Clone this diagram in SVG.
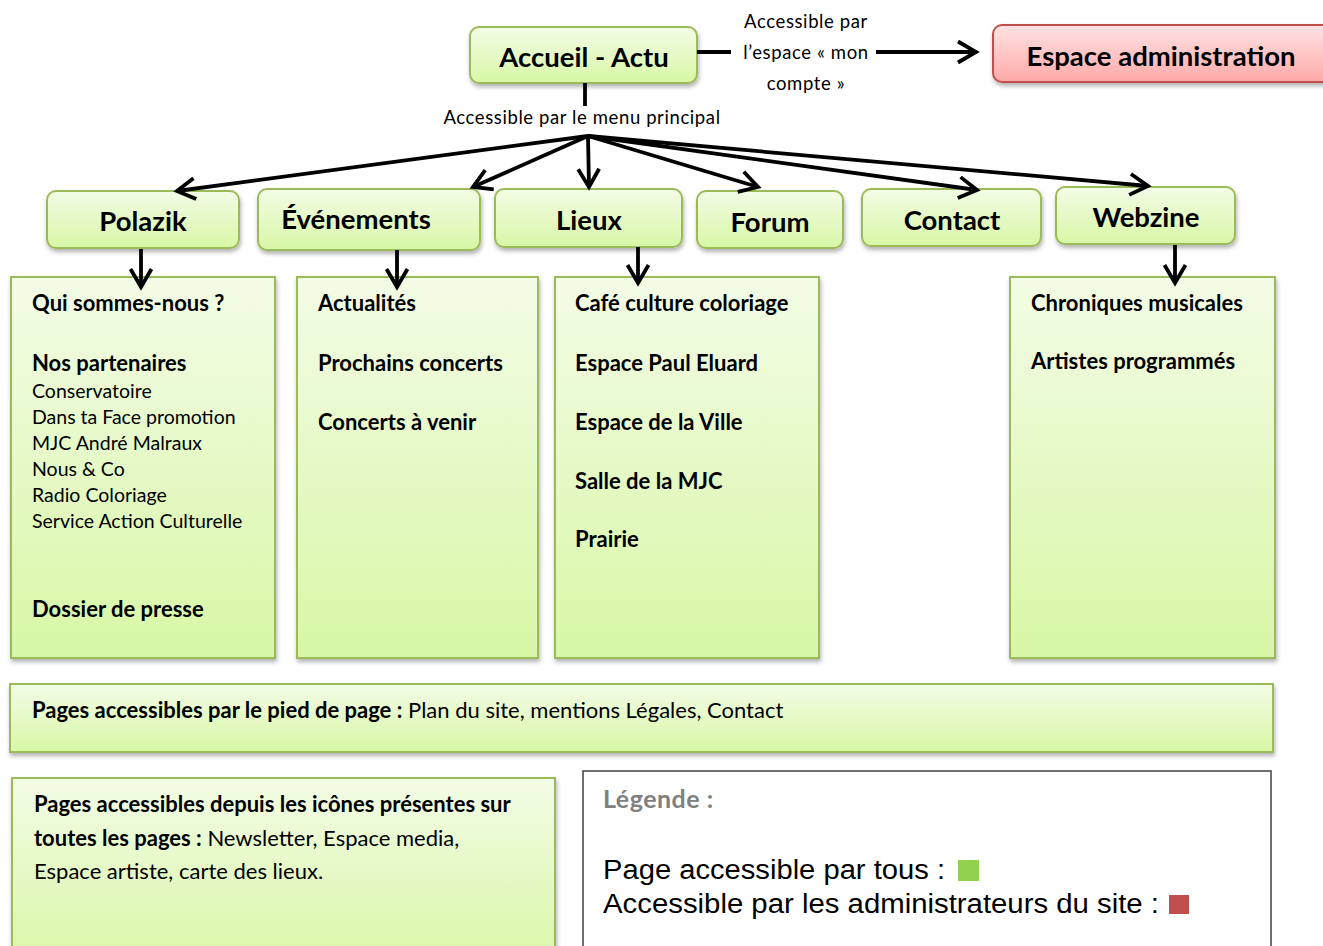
<svg xmlns="http://www.w3.org/2000/svg" width="1323" height="946" viewBox="0 0 1323 946">
<defs>
<linearGradient id="gG" x1="0" y1="0" x2="0" y2="1"><stop offset="0" stop-color="#f3fce6"/><stop offset="1" stop-color="#d8f7a6"/></linearGradient>
<linearGradient id="gR" x1="0" y1="0" x2="0" y2="1"><stop offset="0" stop-color="#ffe3e3"/><stop offset="1" stop-color="#ffa9a9"/></linearGradient>
<filter id="sh" x="-10%" y="-10%" width="120%" height="130%"><feDropShadow dx="1" dy="3" stdDeviation="2" flood-color="#000" flood-opacity="0.3"/></filter>
<marker id="ar" viewBox="-24 -24 48 48" refX="0" refY="0" markerWidth="48" markerHeight="48" markerUnits="userSpaceOnUse" orient="auto" overflow="visible"><path d="M-18,-10.5 L0,0 L-18,10.5" fill="none" stroke="#000" stroke-width="3.8" stroke-linejoin="miter"/></marker>
<style>
.g{fill:url(#gG);stroke:#9bbb59;stroke-width:2;filter:url(#sh)}
.r{fill:url(#gR);stroke:#c0504d;stroke-width:2;filter:url(#sh)}
.t{font-family:Lato,"Open Sans",sans-serif;fill:#000}
.h{font-size:27.5px;font-weight:bold;text-anchor:middle}
.b{font-size:22px;font-weight:bold}
.n{font-size:19.5px}
.f{font-size:22px}
.l{font-size:18.5px;letter-spacing:0.6px;text-anchor:middle}
.c{stroke:#000;stroke-width:3.8;fill:none}
.a{font-family:"Liberation Sans",Arial,sans-serif;font-size:27px;fill:#000}
</style>
</defs>
<g id="accueil"><rect class="g" x="470" y="27" width="227" height="56" rx="9"/><text class="t h" x="584" y="67">Accueil - Actu</text></g>
<g id="admin"><rect class="r" x="993" y="25" width="340" height="57" rx="9"/><text class="t h" x="1161" y="66">Espace administration</text></g>
<g id="polazik"><rect class="g" x="47" y="191" width="192" height="57" rx="9"/><text class="t h" x="143" y="231">Polazik</text></g>
<g id="evenements"><rect class="g" x="258" y="189" width="222" height="61" rx="9"/><text class="t h" x="356" y="229">Événements</text></g>
<g id="lieux"><rect class="g" x="495" y="189" width="187" height="58" rx="9"/><text class="t h" x="589" y="230">Lieux</text></g>
<g id="forum"><rect class="g" x="697" y="191" width="146" height="57" rx="9"/><text class="t h" x="770" y="232">Forum</text></g>
<g id="contact"><rect class="g" x="862" y="189" width="179" height="57" rx="9"/><text class="t h" x="952" y="230">Contact</text></g>
<g id="webzine"><rect class="g" x="1056" y="187" width="179" height="57" rx="9"/><text class="t h" x="1146" y="227">Webzine</text></g>
<g id="polazik-pages"><rect class="g" x="11" y="277" width="264" height="381"/>
<text class="t b" x="32" y="311">Qui sommes-nous ?</text>
<text class="t b" x="32" y="371">Nos partenaires</text>
<text class="t n" x="32" y="398">Conservatoire</text>
<text class="t n" x="32" y="424">Dans ta Face promotion</text>
<text class="t n" x="32" y="450">MJC André Malraux</text>
<text class="t n" x="32" y="476">Nous &amp; Co</text>
<text class="t n" x="32" y="502">Radio Coloriage</text>
<text class="t n" x="32" y="528">Service Action Culturelle</text>
<text class="t b" x="32" y="617">Dossier de presse</text>
</g>
<g id="evenements-pages"><rect class="g" x="297" y="277" width="241" height="381"/>
<text class="t b" x="318" y="311">Actualités</text>
<text class="t b" x="318" y="371">Prochains concerts</text>
<text class="t b" x="318" y="430">Concerts à venir</text>
</g>
<g id="lieux-pages"><rect class="g" x="555" y="277" width="264" height="381"/>
<text class="t b" x="575" y="311">Café culture coloriage</text>
<text class="t b" x="575" y="371">Espace Paul Eluard</text>
<text class="t b" x="575" y="430">Espace de la Ville</text>
<text class="t b" x="575" y="489">Salle de la MJC</text>
<text class="t b" x="575" y="547">Prairie</text>
</g>
<g id="webzine-pages"><rect class="g" x="1010" y="277" width="265" height="381"/>
<text class="t b" x="1031" y="311">Chroniques musicales</text>
<text class="t b" x="1031" y="369">Artistes programmés</text>
</g>
<g id="footer"><rect class="g" x="10" y="684" width="1263" height="68"/>
<text class="t f" x="32" y="718"><tspan font-weight="bold">Pages accessibles par le pied de page :</tspan> Plan du site, mentions Légales, Contact</text>
</g>
<g id="icons"><rect class="g" x="12" y="778" width="543" height="190"/>
<text class="t b" x="34" y="812">Pages accessibles depuis les icônes présentes sur</text>
<text class="t f" x="34" y="846"><tspan font-weight="bold">toutes les pages :</tspan> Newsletter, Espace media,</text>
<text class="t f" x="34" y="879">Espace artiste, carte des lieux.</text>
</g>
<g id="legende"><rect x="583" y="771" width="688" height="190" fill="#fff" stroke="#404040" stroke-width="1.5"/>
<text class="t" x="603" y="808" font-size="25px" font-weight="bold" letter-spacing="0.5" style="fill:#808080">Légende :</text>
<text class="a" x="603" y="879" textLength="342" lengthAdjust="spacingAndGlyphs">Page accessible par tous :</text>
<rect x="958" y="860" width="21" height="21" fill="#92d050"/>
<text class="a" x="603" y="913" textLength="556" lengthAdjust="spacingAndGlyphs">Accessible par les administrateurs du site :</text>
<rect x="1169" y="895" width="20" height="19" fill="#c0504d"/>
</g>
<g id="connectors">
<line class="c" x1="697" y1="52" x2="731" y2="52"/>
<line class="c" x1="876" y1="52" x2="976" y2="52" marker-end="url(#ar)"/>
<line class="c" x1="585" y1="83" x2="585" y2="106"/>
<line class="c" x1="588" y1="136" x2="177" y2="191" marker-end="url(#ar)"/>
<line class="c" x1="588" y1="136" x2="473" y2="187" marker-end="url(#ar)"/>
<line class="c" x1="588" y1="136" x2="589" y2="187" marker-end="url(#ar)"/>
<line class="c" x1="588" y1="136" x2="758" y2="187" marker-end="url(#ar)"/>
<line class="c" x1="588" y1="136" x2="977" y2="190" marker-end="url(#ar)"/>
<line class="c" x1="588" y1="136" x2="1148" y2="186" marker-end="url(#ar)"/>
<line class="c" x1="141" y1="249" x2="141" y2="287" marker-end="url(#ar)"/>
<line class="c" x1="397" y1="250" x2="397" y2="287" marker-end="url(#ar)"/>
<line class="c" x1="638" y1="247" x2="638" y2="283" marker-end="url(#ar)"/>
<line class="c" x1="1175" y1="245" x2="1175" y2="283" marker-end="url(#ar)"/>
<text class="t l" x="806" y="28">Accessible par</text>
<text class="t l" x="806" y="59">l’espace « mon</text>
<text class="t l" x="806" y="90">compte »</text>
<text class="t l" x="582" y="124">Accessible par le menu principal</text>
</g>
</svg>
